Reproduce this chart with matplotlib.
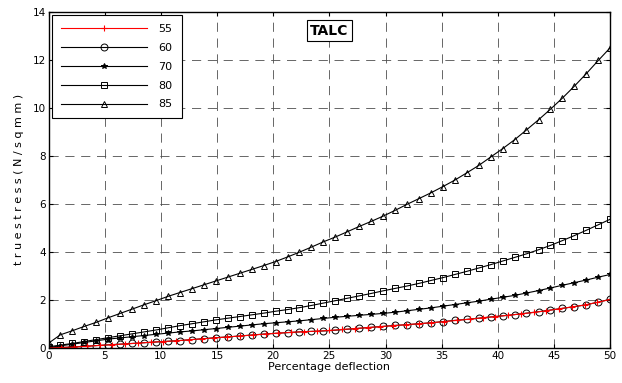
import matplotlib
matplotlib.use('Agg')
import matplotlib.pyplot as plt

# deflection (%) at the sampled points
x_a = [0.00, 1.06, 2.13, 3.19, 4.26, 5.32, 6.38, 7.45, 8.51, 9.57,
       10.64, 11.70, 12.77, 13.83, 14.89, 15.96, 17.02, 18.09, 19.15, 20.21,
       21.28, 22.34, 23.40, 24.47, 25.53, 26.60, 27.66, 28.72, 29.79, 30.85,
       31.91, 32.98, 34.04, 35.11, 36.17, 37.23, 38.30, 39.36, 40.43, 41.49,
       42.55, 43.62, 44.68, 45.74, 46.81, 47.87, 48.94, 50.00]
x_b = [0.00, 1.14, 2.27, 3.41, 4.55, 5.68, 6.82, 7.95, 9.09, 10.23,
       11.36, 12.50, 13.64, 14.77, 15.91, 17.05, 18.18, 19.32, 20.45, 21.59,
       22.73, 23.86, 25.00, 26.14, 27.27, 28.41, 29.55, 30.68, 31.82, 32.95,
       34.09, 35.23, 36.36, 37.50, 38.64, 39.77, 40.91, 42.05, 43.18, 44.32,
       45.45, 46.59, 47.73, 48.86, 50.00]

# true stress (N/sqmm)
s55 = [0.00, 0.02, 0.04, 0.07, 0.11, 0.14, 0.17, 0.20, 0.24, 0.27,
       0.30, 0.34, 0.38, 0.42, 0.46, 0.50, 0.54, 0.58, 0.62, 0.65,
       0.68, 0.70, 0.73, 0.77, 0.81, 0.85, 0.89, 0.93, 0.97, 1.01,
       1.05, 1.10, 1.15, 1.20, 1.26, 1.31, 1.36, 1.42, 1.48, 1.55,
       1.63, 1.71, 1.79, 1.90, 2.02]
s60 = [0.00, 0.02, 0.04, 0.07, 0.10, 0.13, 0.16, 0.19, 0.22, 0.25,
       0.28, 0.31, 0.35, 0.39, 0.43, 0.46, 0.50, 0.54, 0.58, 0.61,
       0.64, 0.67, 0.69, 0.71, 0.74, 0.78, 0.82, 0.86, 0.90, 0.94,
       0.97, 1.01, 1.05, 1.10, 1.15, 1.19, 1.24, 1.29, 1.34, 1.39,
       1.45, 1.51, 1.58, 1.65, 1.72, 1.80, 1.91, 2.03]
s70 = [0.02, 0.09, 0.16, 0.23, 0.30, 0.37, 0.42, 0.47, 0.52, 0.57,
       0.62, 0.67, 0.71, 0.76, 0.81, 0.86, 0.91, 0.96, 1.01, 1.05,
       1.09, 1.13, 1.18, 1.23, 1.28, 1.32, 1.36, 1.40, 1.44, 1.49,
       1.55, 1.61, 1.67, 1.74, 1.81, 1.88, 1.95, 2.03, 2.11, 2.19,
       2.29, 2.39, 2.50, 2.61, 2.72, 2.83, 2.95, 3.06]
s80 = [0.05, 0.12, 0.19, 0.27, 0.35, 0.43, 0.51, 0.59, 0.67, 0.75,
       0.84, 0.93, 1.01, 1.09, 1.17, 1.24, 1.31, 1.38, 1.45, 1.53,
       1.60, 1.68, 1.77, 1.87, 1.97, 2.07, 2.17, 2.27, 2.38, 2.48,
       2.58, 2.69, 2.81, 2.93, 3.06, 3.19, 3.33, 3.47, 3.62, 3.77,
       3.92, 4.09, 4.27, 4.47, 4.68, 4.90, 5.13, 5.36]
s85 = [0.20, 0.55, 0.72, 0.90, 1.07, 1.26, 1.44, 1.62, 1.80, 1.97,
       2.15, 2.31, 2.47, 2.63, 2.79, 2.95, 3.11, 3.27, 3.43, 3.60,
       3.79, 3.99, 4.20, 4.42, 4.62, 4.84, 5.06, 5.27, 5.49, 5.73,
       5.98, 6.22, 6.46, 6.72, 6.99, 7.29, 7.60, 7.95, 8.30, 8.67,
       9.08, 9.50, 9.94, 10.40, 10.90, 11.42, 11.97, 12.50]

fig = plt.figure(figsize=(6.22, 3.83), dpi=100)
ax = fig.add_axes([0.078, 0.0914, 0.903, 0.878])

lw = 0.8
ms = 5
h60, = ax.plot(x_a, s60, 'k-', marker='o', mfc='none', ms=ms, mew=0.7, lw=lw, label='60')
h70, = ax.plot(x_a, s70, 'k-', marker='*', ms=4, mew=0.7, lw=lw, label='70')
h80, = ax.plot(x_a, s80, 'k-', marker='s', mfc='none', ms=ms, mew=0.7, lw=lw, label='80')
h85, = ax.plot(x_a, s85, 'k-', marker='^', mfc='none', ms=ms, mew=0.7, lw=lw, label='85')
h55, = ax.plot(x_b, s55, 'r-', marker='+', ms=ms, mew=0.8, lw=lw, label='55')

ax.set_xlim(0, 50)
ax.set_ylim(0, 14)
ax.set_xticks(range(0, 51, 5))
ax.set_yticks(range(0, 15, 2))
ax.tick_params(direction='in', top=True, right=True, labelsize=7.5, length=3, pad=2)
ax.grid(True, color='0.3', linestyle=(0, (11, 8)), linewidth=0.6)
for sp in ax.spines.values():
    sp.set_linewidth(1.0)

ax.set_xlabel('Percentage deflection', fontsize=8, labelpad=1)
ax.set_ylabel('t r u e s t r e s s ( N / s q m m )', fontsize=8, labelpad=6)

ax.text(25, 13.2, 'TALC', fontsize=10, fontweight='bold', ha='center', va='center',
        bbox=dict(boxstyle='square,pad=0.25', fc='white', ec='black', lw=0.8))

leg = ax.legend(handles=[h55, h60, h70, h80, h85], loc='upper left',
                fontsize=8, handlelength=7.8, handletextpad=1.0,
                labelspacing=0.8, borderpad=0.8, fancybox=False,
                edgecolor='black', framealpha=1, borderaxespad=0.3,
                bbox_to_anchor=(0.0, 1.0))
leg.get_frame().set_linewidth(0.8)

fig.savefig('out.png', dpi=100)
